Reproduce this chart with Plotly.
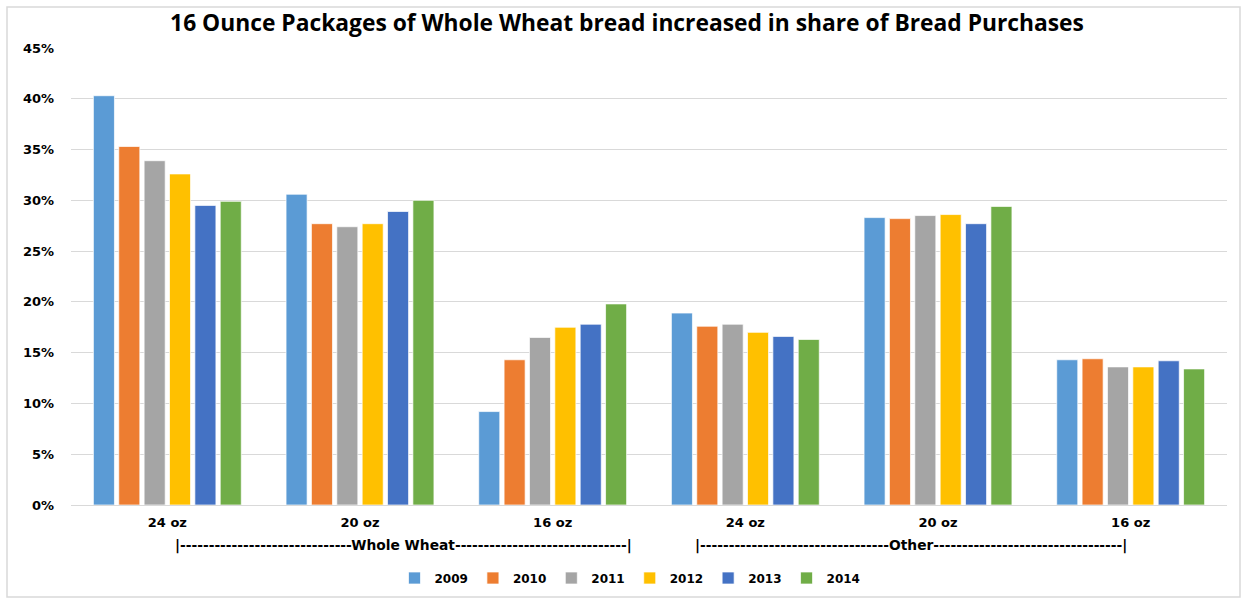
import plotly.graph_objects as go

categories = ["24 oz", "20 oz", "16 oz", "24 oz", "20 oz", "16 oz"]
years = ["2009", "2010", "2011", "2012", "2013", "2014"]
colors = ["#5B9BD5", "#ED7D31", "#A5A5A5", "#FFC000", "#4472C4", "#70AD47"]

v2009 = [40.3, 30.6, 9.2, 18.9, 28.3, 14.3]
v2010 = [35.3, 27.7, 14.3, 17.6, 28.2, 14.4]
v2011 = [33.9, 27.4, 16.5, 17.8, 28.5, 13.6]
v2012 = [32.6, 27.7, 17.5, 17.0, 28.6, 13.6]
v2013 = [29.5, 28.9, 17.8, 16.6, 27.7, 14.2]
v2014 = [29.9, 30.0, 19.8, 16.3, 29.4, 13.4]
series = [v2009, v2010, v2011, v2012, v2013, v2014]

group_labels = ["|" + "-" * 30 + "Whole Wheat" + "-" * 30 + "|",
                "|" + "-" * 33 + "Other" + "-" * 33 + "|"]

yticks = [0, 5, 10, 15, 20, 25, 30, 35, 40, 45]

FONT = "DejaVu Sans"
xpos = list(range(len(categories)))

fig = go.Figure()
for yr, col, vals in zip(years, colors, series):
    fig.add_trace(go.Bar(
        x=xpos, y=vals, name=yr,
        marker=dict(color=col, line=dict(color="rgba(255,255,255,0.7)", width=1)),
    ))

W, H = 1247, 600
L, R, T, B = 71, 20, 48, 95
pw, ph = W - L - R, H - T - B

def px(x):
    return (x - L) / pw

def py(y):
    return (H - B - y) / ph

fig.update_layout(
    width=W, height=H,
    margin=dict(l=L, r=R, t=T, b=B, autoexpand=False),
    paper_bgcolor="white", plot_bgcolor="white",
    barmode="group", bargap=0.21, bargroupgap=0.17,
    title=dict(text="<b>16 Ounce Packages of Whole Wheat bread increased in share of Bread Purchases</b>",
               x=627 / W, xanchor="center", y=1 - 23 / H, yanchor="middle",
               font=dict(family="Open Sans", size=22.8, color="#000000")),
    xaxis=dict(tickmode="array", tickvals=xpos,
               ticktext=["<b>%s</b>" % c for c in categories],
               range=[-0.5, len(categories) - 0.5],
               showgrid=False, showline=False, zeroline=False, ticks="",
               ticklabelstandoff=8, automargin=False,
               tickfont=dict(family=FONT, size=13, color="#000000")),
    yaxis=dict(range=[0, 45], tickvals=yticks,
               ticktext=["<b>%d%%</b>" % t for t in yticks],
               showgrid=True, gridcolor="#D9D9D9", gridwidth=1,
               zeroline=True, zerolinecolor="#D9D9D9", zerolinewidth=1,
               showline=False, ticks="", ticklabelstandoff=16, automargin=False,
               tickfont=dict(family=FONT, size=13, color="#000000")),
    legend=dict(orientation="h", x=px(630), xanchor="center", y=py(578), yanchor="middle",
                font=dict(family=FONT, size=12, color="#000000", weight="bold"),
                itemwidth=30, traceorder="normal"),
    showlegend=True,
)

for txt, cx in zip(group_labels, [403, 911]):
    fig.add_annotation(text="<b>%s</b>" % txt, xref="paper", yref="paper",
                       x=px(cx), y=py(545), xanchor="center", yanchor="middle",
                       showarrow=False, font=dict(family=FONT, size=13.8, color="#000000"))

fig.add_shape(type="rect", xref="paper", yref="paper",
              x0=px(7), x1=px(1240), y0=py(597), y1=py(7),
              line=dict(color="#D9D9D9", width=1.5), fillcolor="rgba(0,0,0,0)", layer="below")

fig.write_html("out.html")
